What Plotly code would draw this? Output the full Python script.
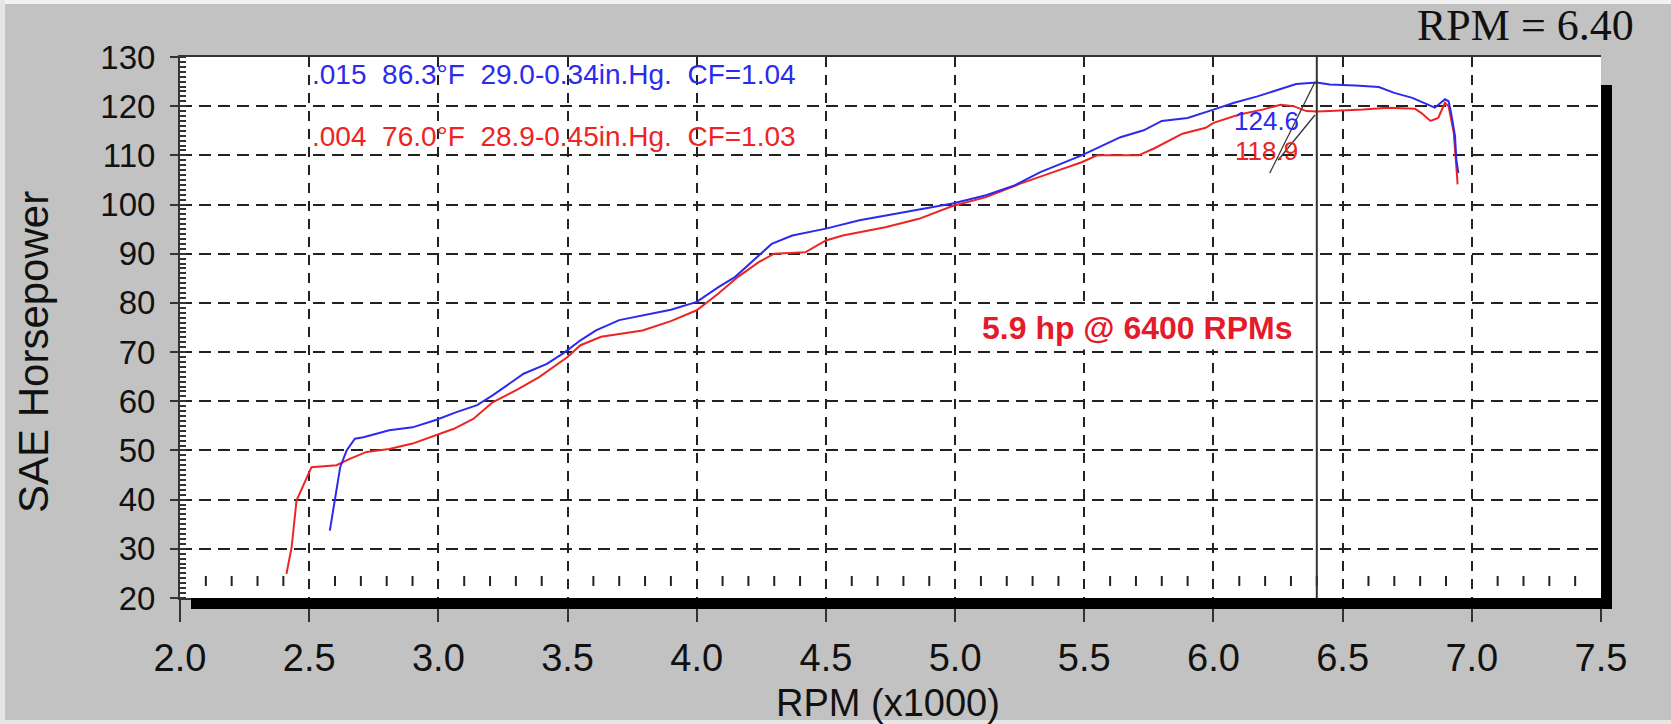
import numpy as np
import plotly.graph_objects as go

# ---- data ----
blue_rpm = [2.58, 2.60, 2.62, 2.645, 2.677, 2.71, 2.81, 2.90, 2.99, 3.07, 3.15, 3.21, 3.33, 3.42,
            3.49, 3.55, 3.61, 3.70, 3.80, 3.90, 4.00, 4.084, 4.149, 4.214, 4.29, 4.37, 4.50, 4.63,
            4.81, 4.99, 5.12, 5.23, 5.33, 5.49, 5.64, 5.73, 5.80, 5.90, 6.00, 6.08, 6.17, 6.25,
            6.32, 6.40, 6.45, 6.55, 6.64, 6.70, 6.77, 6.83, 6.857, 6.896, 6.91, 6.92, 6.935, 6.94, 6.948]
blue_hp = [33.7, 39.8, 46.6, 50.0, 52.4, 52.7, 54.1, 54.7, 56.2, 57.8, 59.2, 61.2, 65.6, 67.6,
           70.0, 72.4, 74.4, 76.5, 77.6, 78.6, 80.2, 83.2, 85.3, 88.3, 92.0, 93.7, 95.1, 96.8,
           98.5, 100.2, 101.9, 103.9, 106.6, 110.0, 113.7, 115.1, 117.0, 117.6, 119.3, 120.7, 122.0, 123.4,
           124.5, 124.8, 124.4, 124.2, 123.9, 122.7, 121.7, 120.3, 119.7, 121.4, 121.0, 118.6, 113.9, 109.2, 106.4]

red_rpm = [2.412, 2.432, 2.451, 2.49, 2.509, 2.606, 2.657, 2.722, 2.81, 2.90, 2.99, 3.06, 3.135, 3.21,
           3.30, 3.39, 3.50, 3.55, 3.63, 3.79, 3.90, 4.00, 4.084, 4.16, 4.24, 4.30, 4.42, 4.50, 4.565,
           4.73, 4.86, 4.99, 5.12, 5.25, 5.38, 5.49, 5.55, 5.71, 5.77, 5.88, 5.97, 6.00, 6.10, 6.19,
           6.26, 6.31, 6.36, 6.40, 6.45, 6.58, 6.675, 6.78, 6.805, 6.84, 6.87, 6.896, 6.91, 6.93, 6.94, 6.945]
red_hp = [24.9, 30.3, 39.8, 44.6, 46.6, 47.0, 48.3, 49.7, 50.3, 51.4, 53.1, 54.4, 56.4, 59.8,
          62.2, 64.9, 69.0, 71.4, 73.1, 74.4, 76.3, 78.5, 81.9, 85.3, 88.3, 90.0, 90.3, 92.7, 93.7,
          95.4, 97.1, 99.7, 101.5, 104.2, 106.6, 108.6, 110.0, 110.0, 111.4, 114.4, 115.6, 116.6, 118.3, 119.3,
          120.3, 120.0, 119.0, 118.9, 119.0, 119.3, 119.7, 119.5, 118.6, 117.0, 117.6, 120.7, 120.0, 114.6, 107.8, 104.1]

x_ticks = [2.0, 2.5, 3.0, 3.5, 4.0, 4.5, 5.0, 5.5, 6.0, 6.5, 7.0, 7.5]
x_tick_labels = ["2.0", "2.5", "3.0", "3.5", "4.0", "4.5", "5.0", "5.5", "6.0", "6.5", "7.0", "7.5"]
y_ticks = [20, 30, 40, 50, 60, 70, 80, 90, 100, 110, 120, 130]

cursor_rpm = 6.40
blue_peak_label = "124.6"
red_peak_label = "118.9"
blue_label_pos = [6.205, 116.9]
red_label_pos = [6.205, 110.9]
blue_leader = [[6.218, 106.4], [6.393, 124.9]]
red_leader = [[6.25, 109.0], [6.393, 118.2]]

blue_info = ".015  86.3°F  29.0-0.34in.Hg.  CF=1.04"
red_info = ".004  76.0°F  28.9-0.45in.Hg.  CF=1.03"
info_x = 2.504
blue_info_y = 126.4
red_info_y = 113.9
gain_text = "5.9 hp @ 6400 RPMs"
gain_pos = [5.705, 74.9]
cursor_text = "RPM = 6.40"

BLUE = "#2b2bee"
RED = "#ee2424"

# ---- geometry helpers (pixel -> paper) ----
W, H = 1671, 724
L, R, T, B = 180, 70, 57, 126
PW, PH = W - L - R, H - T - B


def px(xp):
    return (xp - L) / PW


def py(yp):
    return (H - B - yp) / PH


fig = go.Figure()
fig.add_trace(go.Scatter(x=red_rpm, y=red_hp, mode="lines",
                         line=dict(color=RED, width=2), showlegend=False, hoverinfo="skip"))
fig.add_trace(go.Scatter(x=blue_rpm, y=blue_hp, mode="lines",
                         line=dict(color=BLUE, width=2), showlegend=False, hoverinfo="skip"))

shapes = []
# x minor tick dashes inside plot
for xm in np.round(np.arange(2.1, 7.45, 0.1), 2):
    if abs(xm * 2 - round(xm * 2)) < 1e-6:
        continue
    shapes.append(dict(type="line", xref="x", yref="y", ysizemode="pixel", yanchor=20,
                       x0=xm, x1=xm, y0=12, y1=22, line=dict(color="#222", width=2)))
# cursor line
shapes.append(dict(type="line", xref="x", yref="paper", x0=cursor_rpm, x1=cursor_rpm, y0=0, y1=1,
                   line=dict(color="#333", width=2)))
# leader lines
for ld in (blue_leader, red_leader):
    shapes.append(dict(type="line", xref="x", yref="y", x0=ld[0][0], y0=ld[0][1], x1=ld[1][0], y1=ld[1][1],
                       line=dict(color="#333", width=1.3)))
# shadow bands (bottom and right)
shapes.append(dict(type="rect", xref="paper", yref="paper", x0=px(191), x1=px(1612), y0=py(609), y1=py(598),
                   fillcolor="black", line=dict(width=0), layer="above"))
shapes.append(dict(type="rect", xref="paper", yref="paper", x0=px(1601), x1=px(1612), y0=py(609), y1=py(85),
                   fillcolor="black", line=dict(width=0), layer="above"))
# light picture border
shapes.append(dict(type="rect", xref="paper", yref="paper", x0=px(0), x1=px(W), y0=py(4), y1=py(0),
                   fillcolor="#f2f2f2", line=dict(width=0), layer="below"))
shapes.append(dict(type="rect", xref="paper", yref="paper", x0=px(0), x1=px(5), y0=py(H), y1=py(0),
                   fillcolor="#e6e6e6", line=dict(width=0), layer="below"))
shapes.append(dict(type="rect", xref="paper", yref="paper", x0=px(0), x1=px(W), y0=py(H), y1=py(H - 4),
                   fillcolor="#e6e6e6", line=dict(width=0), layer="below"))

SANS = "Liberation Sans, Arial, sans-serif"
annotations = [
    dict(x=info_x, y=blue_info_y, xref="x", yref="y", text=blue_info.replace(" ", "\u00a0"),
         showarrow=False, xanchor="left", yanchor="middle",
         font=dict(family=SANS, size=28, color=BLUE)),
    dict(x=info_x, y=red_info_y, xref="x", yref="y", text=red_info.replace(" ", "\u00a0"),
         showarrow=False, xanchor="left", yanchor="middle",
         font=dict(family=SANS, size=28, color=RED)),
    dict(x=blue_label_pos[0], y=blue_label_pos[1], xref="x", yref="y", text=blue_peak_label,
         showarrow=False, xanchor="center", yanchor="middle",
         font=dict(family=SANS, size=26, color=BLUE)),
    dict(x=red_label_pos[0], y=red_label_pos[1], xref="x", yref="y", text=red_peak_label,
         showarrow=False, xanchor="center", yanchor="middle",
         font=dict(family=SANS, size=26, color=RED)),
    dict(x=gain_pos[0], y=gain_pos[1], xref="x", yref="y", text="<b>" + gain_text + "</b>",
         showarrow=False, xanchor="center", yanchor="middle", bgcolor="white", borderpad=3,
         font=dict(family=SANS, size=32, color="#e31b2b")),
    dict(x=px(1636), y=py(26), xref="paper", yref="paper", text=cursor_text,
         showarrow=False, xanchor="right", yanchor="middle",
         font=dict(family="Liberation Serif, Times New Roman, serif", size=44, color="#111")),
    dict(x=px(33), y=py(352), xref="paper", yref="paper", text="SAE Horsepower", textangle=-90,
         showarrow=False, xanchor="center", yanchor="middle",
         font=dict(family=SANS, size=42, color="#111")),
    dict(x=px(888), y=py(703), xref="paper", yref="paper", text="RPM (x1000)",
         showarrow=False, xanchor="center", yanchor="middle",
         font=dict(family=SANS, size=38, color="#111")),
]

fig.update_layout(
    width=W, height=H,
    margin=dict(l=L, r=R, t=T, b=B, autoexpand=False),
    paper_bgcolor="#c2c2c2",
    plot_bgcolor="white",
    shapes=shapes,
    annotations=annotations,
    showlegend=False,
)
fig.update_xaxes(
    range=[2.0, 7.5], tickvals=x_ticks, ticktext=x_tick_labels,
    showgrid=True, gridcolor="#222", gridwidth=2, griddash="10px,8px",
    zeroline=False, showline=True, linecolor="#333", linewidth=2, mirror=True,
    ticks="outside", ticklen=22, tickwidth=2, tickcolor="#333",
    ticklabelstandoff=3,
    tickfont=dict(family=SANS, size=38, color="#111"),
    automargin=False,
)
fig.update_yaxes(
    range=[20, 130], tickvals=y_ticks,
    showgrid=True, gridcolor="#222", gridwidth=2, griddash="12px,7px",
    zeroline=False, showline=True, linecolor="#333", linewidth=2, mirror=False,
    ticks="outside", ticklen=8, tickwidth=2, tickcolor="#333",
    ticklabelstandoff=8,
    minor=dict(dtick=1, ticks="inside", ticklen=6, tickwidth=1.5, tickcolor="#333", showgrid=False),
    tickfont=dict(family=SANS, size=33, color="#111"),
    automargin=False,
)

fig.write_html(
    "out.html",
    config={"displayModeBar": False},
    post_script="document.body.style.margin='0';document.body.style.overflow='hidden';",
)
